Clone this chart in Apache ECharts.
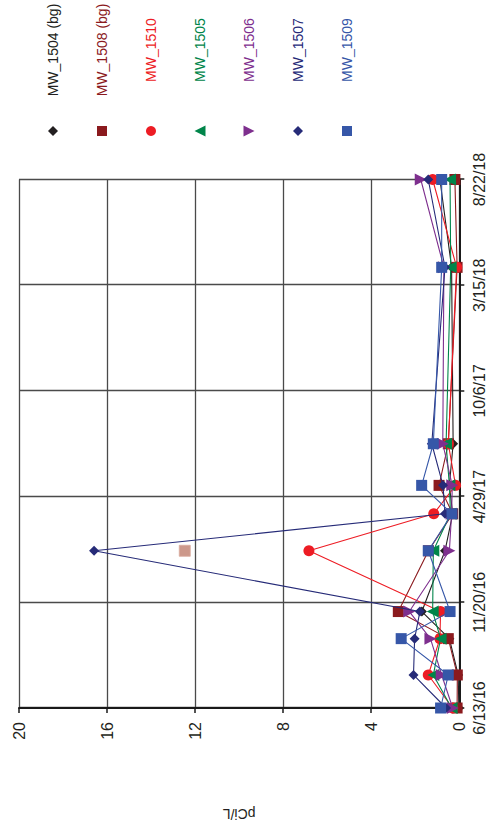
<!DOCTYPE html>
<html>
<head>
<meta charset="utf-8">
<script src="https://cdn.jsdelivr.net/npm/echarts@6/dist/echarts.min.js"></script>
<style>
  html, body { margin: 0; padding: 0; background: #ffffff; overflow: hidden; }
  body { width: 488px; height: 829px; position: relative; }
  #chart {
    position: absolute; left: 0; top: 0;
    width: 829px; height: 488px;
    transform-origin: 0 0;
    transform: translate(0px, 829px) rotate(-90deg);
  }
</style>
</head>
<body>
<div id="chart"></div>
<script>
// ---- data ----
const sampleDates = ['2016-06-13','2016-08-02','2016-09-26','2016-11-06','2017-02-06','2017-04-03','2017-05-16','2017-07-18','2018-04-11','2018-08-22'];
const seriesNames = ['MW_1504 (bg)','MW_1508 (bg)','MW_1510','MW_1505','MW_1506','MW_1507','MW_1509'];
const mw1504 = [0.02, 0.05, 0.45, 1.70, 0.65, 0.30, 0.45, 0.28, 0.35, 0.88];
const mw1508 = [0.10, 0.09, 0.50, 2.77, 1.40, 0.30, 0.92, 0.50, 0.10, 0.20];
const mw1510 = [0.30, 1.41, 0.88, 0.85, 6.83, 1.16, 0.17, 0.50, 0.12, 1.21];
const mw1505 = [0.35, 1.18, 0.85, 1.21, 1.18, 0.40, 0.45, 0.60, 0.39, 0.42];
const mw1506 = [0.30, 0.80, 1.31, 2.27, 0.45, 0.35, 0.32, 0.75, 0.70, 1.75];
const mw1507 = [0.60, 2.08, 2.03, 1.79, 16.59, 0.65, 0.74, 1.25, 0.65, 1.41];
const mw1509 = [0.85, 0.50, 2.64, 0.42, 1.41, 0.33, 1.71, 1.18, 0.80, 0.80];
const mw1508ExtraDate = ['2017-02-06'];
const mw1508ExtraValue = [12.47];
const dateTickLabels = ['6/13/16','11/20/16','4/29/17','10/6/17','3/15/18','8/22/18'];
const valueTickLabels = ['0','4','8','12','16','20'];

// ---- helpers ----
const DAY = 86400000;
function toUTC(s){ const p = s.split('-').map(Number); return Date.UTC(p[0], p[1]-1, p[2]); }
const baseT = toUTC(sampleDates[0]);
function dayOff(s){ return Math.round((toUTC(s) - baseT) / DAY); }
const xDays = sampleDates.map(dayOff);
const tickStep = 160;

const colors = ['#231f20','#8b1a1e','#ed1c24','#00854a','#7e2f8e','#262b78','#3657a8'];
const symbols = [
  'path://M5,0L10,5L5,10L0,5Z',
  'rect',
  'circle',
  'path://M5,0L10,10L0,10Z',
  'path://M0,0L10,0L5,10Z',
  'path://M5,0L10,5L5,10L0,5Z',
  'rect'
];
const sizes = [10, 11, 11, 12, 12, 10, 11];
const allValues = [mw1504, mw1508, mw1510, mw1505, mw1506, mw1507, mw1509];
const FONT = '"Liberation Sans", Arial, sans-serif';

const series = seriesNames.map((name, i) => ({
  name: name,
  type: 'line',
  data: allValues[i].map((v, k) => [xDays[k], v]),
  symbol: symbols[i],
  symbolSize: sizes[i],
  showAllSymbol: true,
  lineStyle: { color: colors[i], width: 1.1 },
  itemStyle: { color: colors[i], borderWidth: 0 },
  z: 2 + i,
  animation: false
}));
series.push({
  name: 'MW_1508 (bg) flagged',
  type: 'scatter',
  data: mw1508ExtraDate.map((d, k) => [dayOff(d), mw1508ExtraValue[k]]),
  symbol: 'rect',
  symbolSize: 11,
  itemStyle: { color: '#bf7e6e', borderColor: '#d9aa9e', borderWidth: 1 },
  z: 2,
  animation: false
});

// legend: icons via legend component, names as centred text
const legendY = [53, 102, 151, 200, 249, 298, 347];
const legendIconX = 698;
const legendTextX = 779;
const legends = seriesNames.map((name, i) => {
  const w = (i === 3 || i === 4) ? 12 : 10;
  const h = (i === 3 || i === 4) ? 11 : 10;
  return {
    show: true,
    selectedMode: false,
    orient: 'horizontal',
    left: legendIconX - w / 2,
    top: legendY[i] - h / 2,
    padding: 0,
    itemWidth: w,
    itemHeight: h,
    data: [{ name: name, icon: symbols[i] }],
    formatter: () => '',
    textStyle: { fontSize: 1 }
  };
});
const legendTexts = seriesNames.map((name, i) => ({
  type: 'text',
  x: legendTextX,
  y: legendY[i],
  style: {
    text: name,
    fill: colors[i],
    font: '14px ' + FONT,
    textAlign: 'center',
    textVerticalAlign: 'middle'
  }
}));

const chart = echarts.init(document.getElementById('chart'), null, { renderer: 'svg', width: 829, height: 488 });
chart.setOption({
  animation: false,
  backgroundColor: '#ffffff',
  legend: legends,
  graphic: legendTexts,
  grid: { left: 120, top: 19, width: 529.5, height: 440.3, containLabel: false },
  xAxis: {
    type: 'value',
    min: 0,
    max: tickStep * (dateTickLabels.length - 1),
    interval: tickStep,
    position: 'bottom',
    axisLine: { show: true, onZero: false, lineStyle: { color: '#1a1a1a', width: 2 } },
    axisTick: { show: true, inside: false, length: 5, lineStyle: { color: '#1a1a1a', width: 1.5 } },
    axisLabel: {
      fontSize: 16, color: '#231f20', fontFamily: FONT, margin: 12,
      formatter: v => dateTickLabels[Math.round(v / tickStep)] || ''
    },
    splitLine: { show: true, lineStyle: { color: '#4a4a4a', width: 1.3 } }
  },
  yAxis: {
    type: 'value',
    min: 0,
    max: 20,
    interval: 4,
    position: 'left',
    name: 'pCi/L',
    nameLocation: 'middle',
    nameGap: 99,
    nameTextStyle: { fontSize: 14, color: '#231f20', fontFamily: FONT },
    axisLine: { show: true, lineStyle: { color: '#1a1a1a', width: 2 } },
    axisTick: { show: true, inside: false, length: 5, lineStyle: { color: '#1a1a1a', width: 1.5 } },
    axisLabel: {
      fontSize: 16, color: '#231f20', fontFamily: FONT, margin: 14,
      formatter: v => valueTickLabels[Math.round(v / 4)] || ''
    },
    splitLine: { show: true, lineStyle: { color: '#4a4a4a', width: 1.3 } }
  },
  series: series
});
</script>
</body>
</html>
